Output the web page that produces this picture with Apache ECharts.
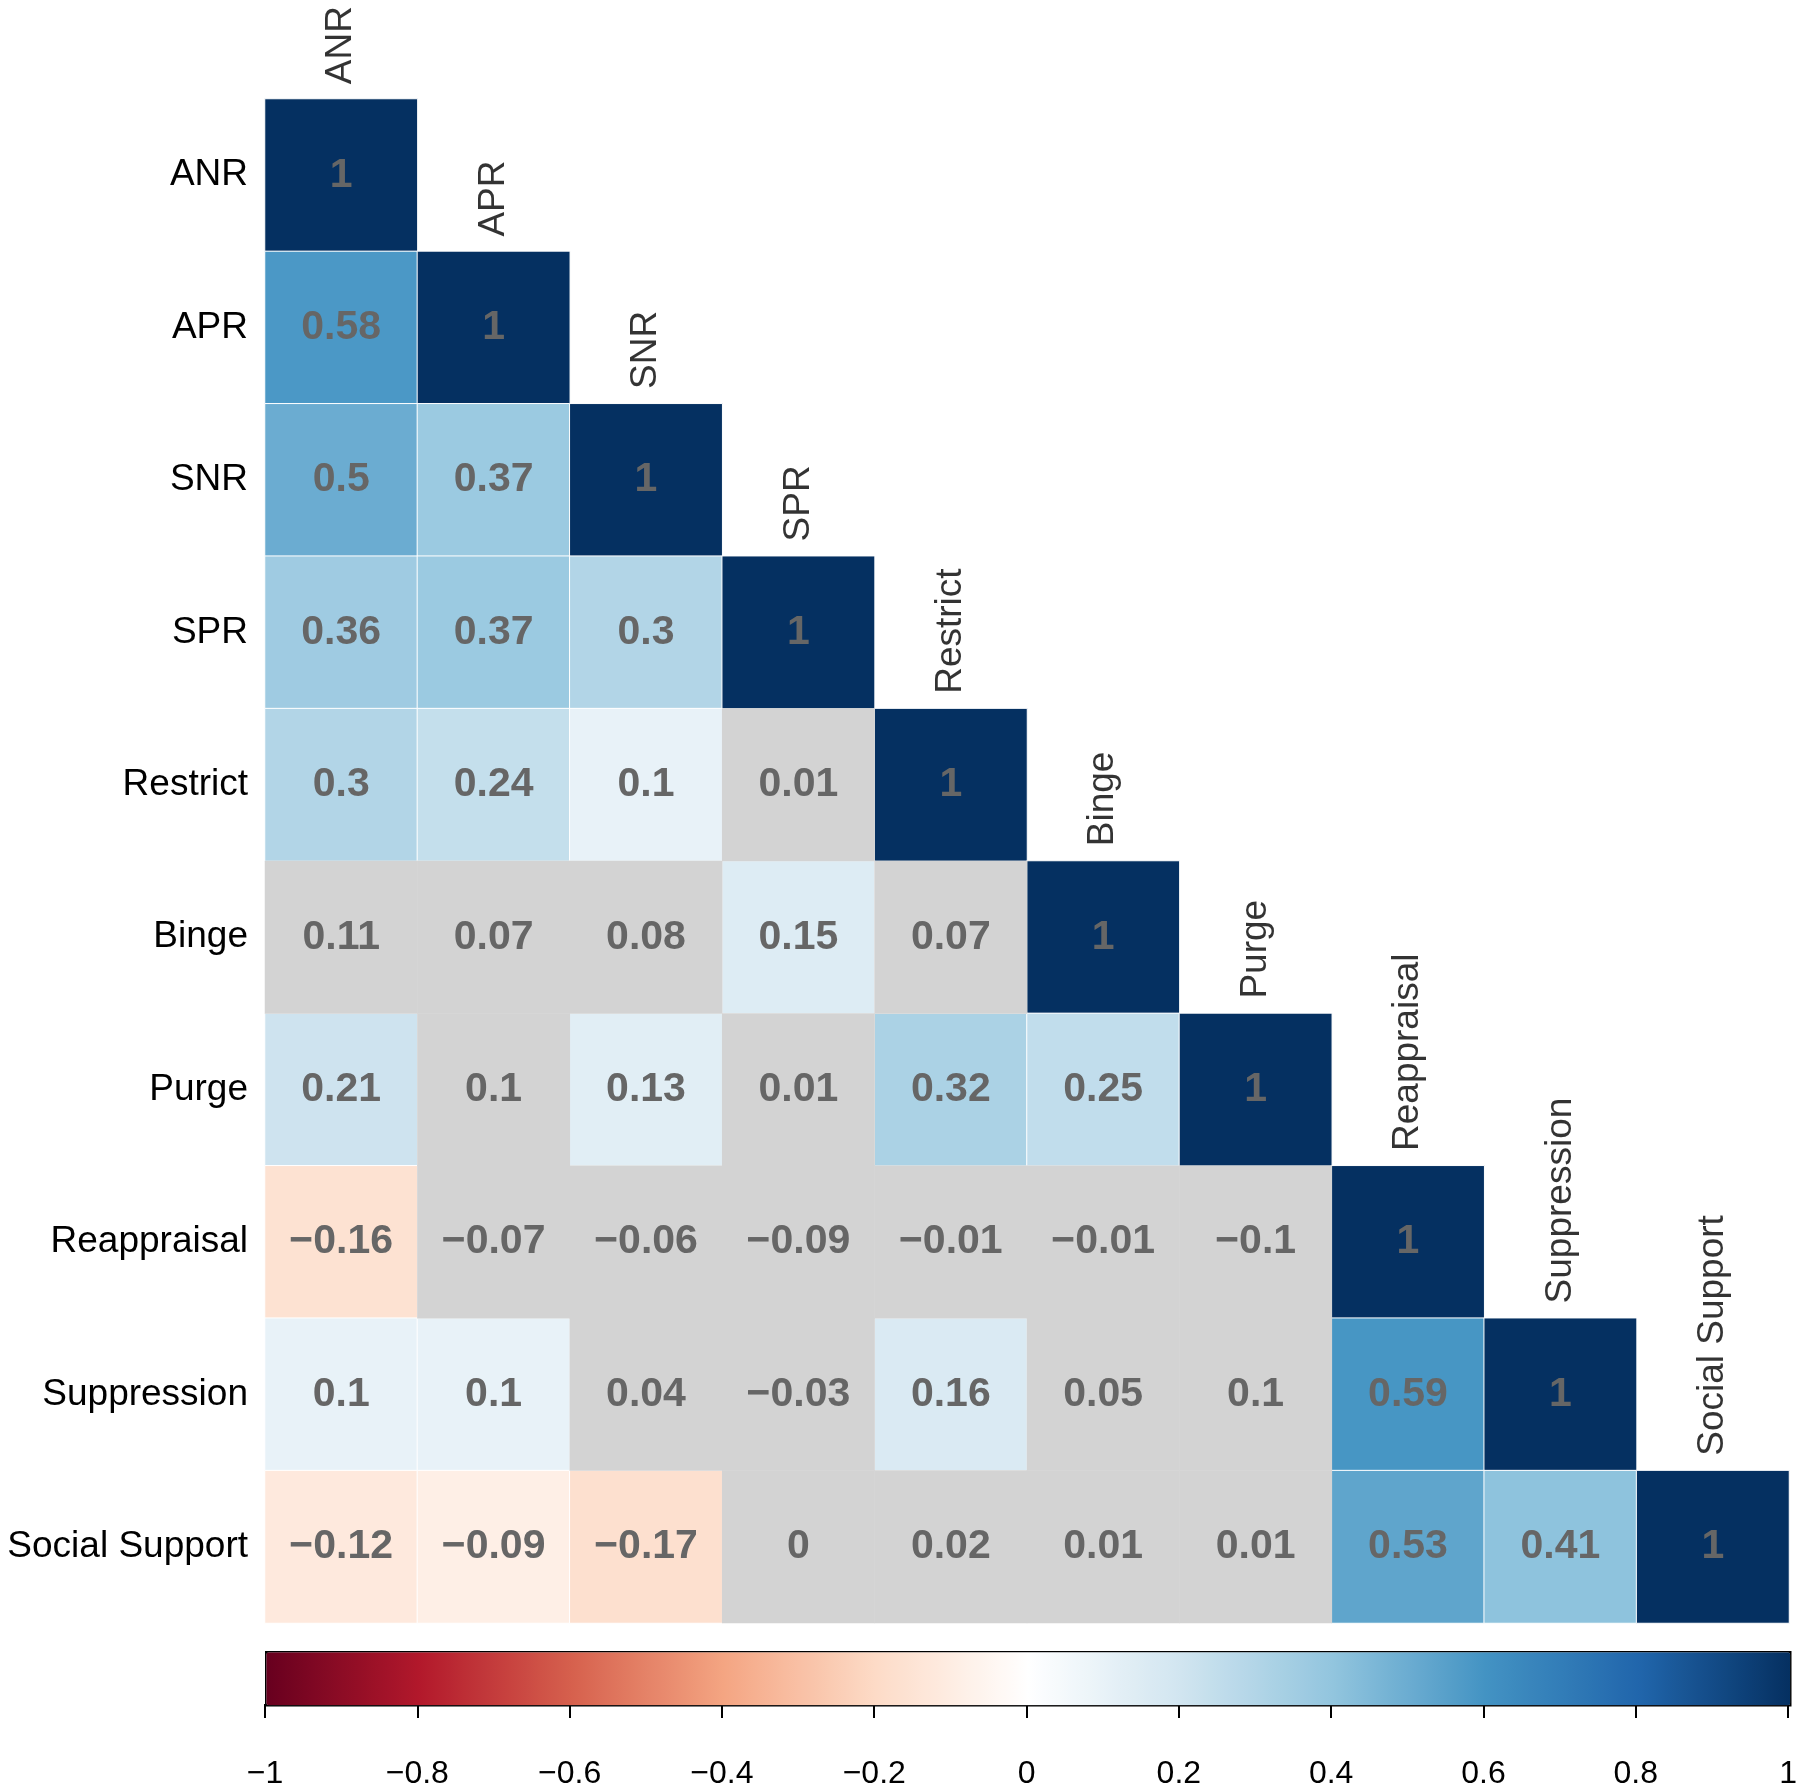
<!DOCTYPE html>
<html>
<head>
<meta charset="utf-8">
<script src="https://cdn.jsdelivr.net/npm/echarts@6/dist/echarts.min.js"></script>
<style>
  html, body { margin: 0; padding: 0; background: #fff; }
  #main { width: 1800px; height: 1790px; }
</style>
</head>
<body>
<div id="main"></div>
<script>
var vars = ['ANR', 'APR', 'SNR', 'SPR', 'Restrict', 'Binge', 'Purge', 'Reappraisal', 'Suppression', 'Social Support'];

// lower triangle, row by row (row i has i+1 values)
var corr = [
    [1],
    [0.58, 1],
    [0.5, 0.37, 1],
    [0.36, 0.37, 0.3, 1],
    [0.3, 0.24, 0.1, 0.01, 1],
    [0.11, 0.07, 0.08, 0.15, 0.07, 1],
    [0.21, 0.1, 0.13, 0.01, 0.32, 0.25, 1],
    [-0.16, -0.07, -0.06, -0.09, -0.01, -0.01, -0.1, 1],
    [0.1, 0.1, 0.04, -0.03, 0.16, 0.05, 0.1, 0.59, 1],
    [-0.12, -0.09, -0.17, 0, 0.02, 0.01, 0.01, 0.53, 0.41, 1]
];

// 1 = significant (coloured), 0 = not significant (grey)
var signif = [
    [1],
    [1, 1],
    [1, 1, 1],
    [1, 1, 1, 1],
    [1, 1, 1, 0, 1],
    [0, 0, 0, 1, 0, 1],
    [1, 0, 1, 0, 1, 1, 1],
    [1, 0, 0, 0, 0, 0, 0, 1],
    [1, 1, 0, 0, 1, 0, 0, 1, 1],
    [1, 1, 1, 0, 0, 0, 0, 1, 1, 1]
];

var barTicks = [-1, -0.8, -0.6, -0.4, -0.2, 0, 0.2, 0.4, 0.6, 0.8, 1];
var rdbu = ['#67001F', '#B2182B', '#D6604D', '#F4A582', '#FDDBC7', '#FFFFFF',
            '#D1E5F0', '#92C5DE', '#4393C3', '#2166AC', '#053061'];

var sigData = [], nsData = [], diag = [];
for (var i = 0; i < corr.length; i++) {
    for (var j = 0; j < corr[i].length; j++) {
        if (signif[i][j]) sigData.push([j, i, corr[i][j]]);
        else nsData.push([j, i, corr[i][j]]);
    }
    diag.push([i, i]);
}

function minus(v) {
    return String(v).replace('-', '\u2212');
}

var font = '"Liberation Sans", Arial, sans-serif';
var cellLabel = {
    show: true,
    fontFamily: font,
    fontSize: 41,
    fontWeight: 'bold',
    color: '#666666',
    formatter: function (p) {
        return minus(p.value[2]);
    }
};

var myChart = echarts.init(document.getElementById('main'));

var option = {
    animation: false,
    backgroundColor: '#ffffff',
    grid: [
        {left: 265, top: 99, width: 1524, height: 1524},
        {left: 265, top: 1703, width: 1524, height: 1}
    ],
    xAxis: [
        {
            type: 'category', data: vars, gridIndex: 0,
            axisLine: {show: false}, axisTick: {show: false},
            axisLabel: {show: false}, splitLine: {show: false}
        },
        {
            type: 'value', gridIndex: 1, min: -1, max: 1, interval: 0.2,
            axisLine: {show: false},
            axisTick: {show: true, length: 14, lineStyle: {color: '#000', width: 2}},
            axisLabel: {
                fontFamily: font, fontSize: 32, color: '#000', margin: 54,
                formatter: function (v) {
                    return minus(Math.round(v * 10) / 10);
                }
            },
            splitLine: {show: false}
        }
    ],
    yAxis: [
        {
            type: 'category', data: vars, gridIndex: 0, inverse: true,
            axisLine: {show: false}, axisTick: {show: false},
            axisLabel: {fontFamily: font, fontSize: 37, color: '#000', margin: 17},
            splitLine: {show: false}
        },
        {
            type: 'value', gridIndex: 1, show: false
        }
    ],
    visualMap: [
        {
            type: 'continuous',
            seriesIndex: 0,
            min: -1, max: 1,
            orient: 'horizontal',
            calculable: false,
            hoverLink: false,
            left: 265, top: 1651,
            itemWidth: 53, itemHeight: 1524,
            padding: 0,
            borderColor: '#000',
            borderWidth: 2.5,
            text: null,
            inRange: {color: rdbu}
        },
        {
            type: 'continuous',
            seriesIndex: 1,
            show: false,
            min: -1, max: 1,
            inRange: {color: ['#D3D3D3', '#D3D3D3']}
        }
    ],
    series: [
        {
            type: 'heatmap',
            data: sigData,
            itemStyle: {borderColor: '#ffffff', borderWidth: 1},
            label: cellLabel
        },
        {
            type: 'heatmap',
            data: nsData,
            label: cellLabel
        },
        {
            type: 'scatter',
            data: diag,
            symbolSize: 0,
            silent: true,
            label: {
                show: true,
                position: [0, -91],
                rotate: 90,
                align: 'left',
                verticalAlign: 'middle',
                fontFamily: font,
                fontSize: 37,
                color: '#000',
                formatter: function (p) { return vars[p.value[0]]; }
            }
        }
    ]
};

myChart.setOption(option);
</script>
</body>
</html>
